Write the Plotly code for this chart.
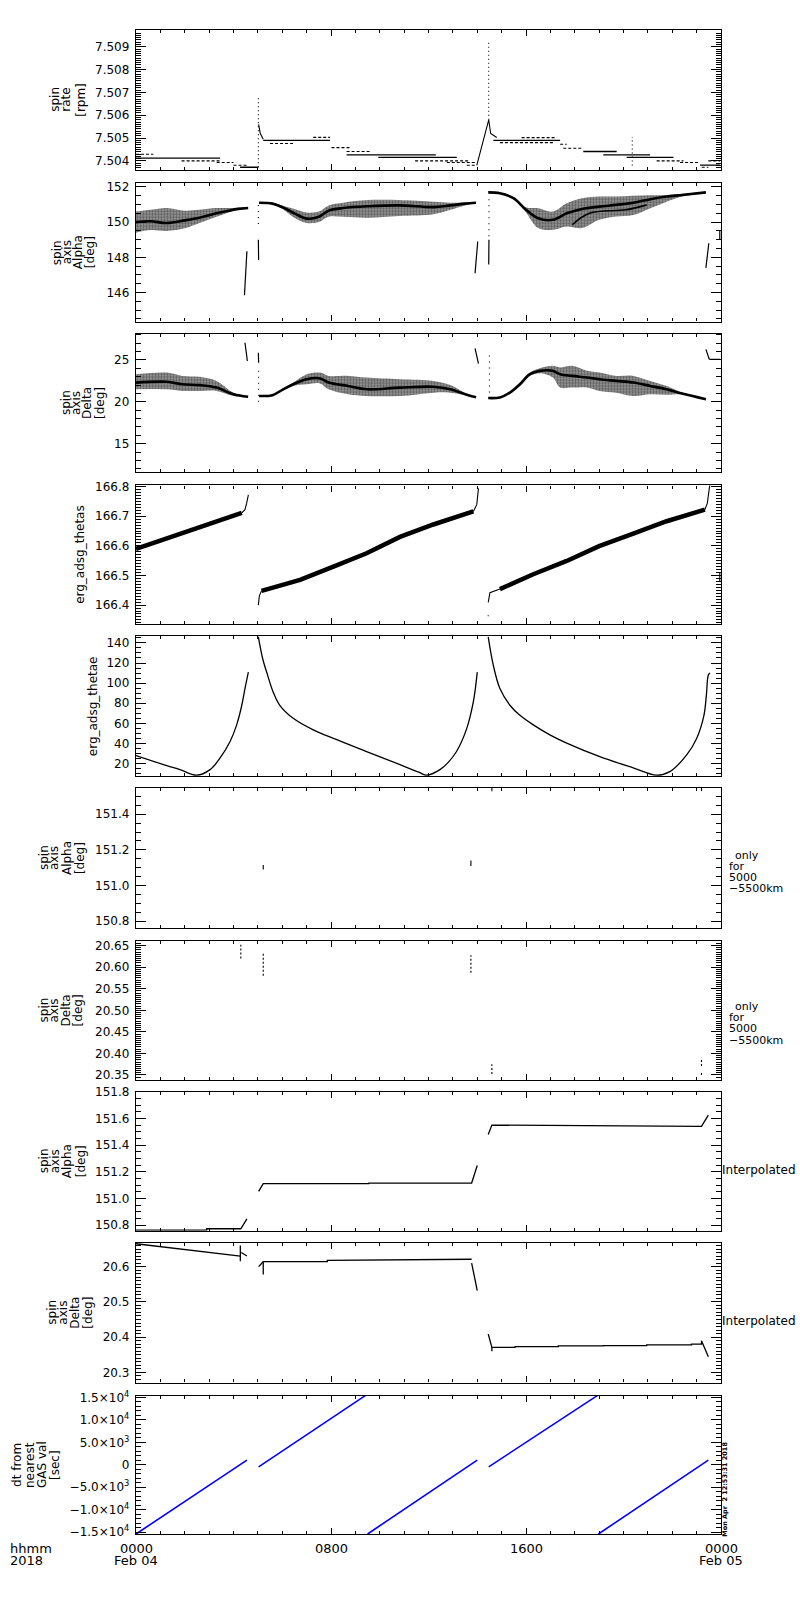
import plotly.graph_objects as go

# ---------------- data (hours since 2018-02-04 00:00 UT) ----------------

# panel 1: spin rate [rpm], quantized levels (dense / sparse runs)
rate_dense_t0 = [0.0, 4.27, 5.22, 8.64, 9.94, 14.66, 18.35, 19.17, 20.13, 23.14]
rate_dense_t1 = [3.45, 5.02, 7.96, 12.3, 13.16, 17.4, 19.72, 21.09, 22.05, 23.96]
rate_dense_v = [7.50412, 7.50372, 7.5049, 7.50426, 7.50415, 7.5049, 7.50441, 7.50426, 7.50415, 7.50381]
rate_sparse_t0 = [0.0, 1.87, 3.31, 4.0, 5.5, 7.27, 8.02, 8.64, 11.45, 12.75, 13.57,
                  14.93, 15.82, 17.4, 17.53, 21.36, 22.32, 23.21, 23.48]
rate_sparse_t1 = [0.71, 3.45, 4.0, 4.61, 6.45, 7.96, 8.78, 9.6, 13.7, 13.98, 13.98,
                  17.12, 17.26, 17.67, 18.35, 22.46, 23.14, 23.48, 23.96]
rate_sparse_v = [7.50429, 7.5040, 7.50393, 7.50381, 7.50476, 7.50503, 7.50458, 7.50441, 7.5040, 7.50393, 7.50381,
                 7.5048, 7.50502, 7.50473, 7.50455, 7.5040, 7.50393, 7.50372, 7.5040]
rate_tr1_t = [5.03, 5.1, 5.22]
rate_tr1_v = [7.5056, 7.5052, 7.50495]
rate_tr2_t = [13.98, 14.45, 14.47, 14.55, 14.8]
rate_tr2_v = [7.5038, 7.5058, 7.5058, 7.5052, 7.50502]
rate_spike_t = [5.02, 14.47, 20.36]
rate_spike_lo = [7.50372, 7.5058, 7.5038]
rate_spike_hi = [7.50676, 7.50931, 7.50505]

# panel 2: spin axis alpha [deg], noisy band (core, upper, lower)
alpha_b1_t = [0.0, 0.6, 1.26, 2.0, 2.6, 3.3, 3.8, 4.2, 4.6]
alpha_b1_c = [150.0, 150.05, 149.95, 150.1, 150.25, 150.5, 150.65, 150.75, 150.8]
alpha_b1_hi = [150.6, 150.7, 150.8, 150.65, 150.7, 150.8, 150.8, 150.82, 150.84]
alpha_b1_lo = [149.4, 149.55, 149.5, 149.65, 149.95, 150.3, 150.55, 150.7, 150.78]
alpha_b2_t = [5.05, 5.6, 6.0, 6.5, 7.0, 7.5, 7.9, 8.5, 9.5, 10.8, 12.2, 12.9, 13.5, 13.95]
alpha_b2_c = [151.1, 151.05, 150.85, 150.5, 150.2, 150.3, 150.65, 150.8, 150.9, 150.95, 150.85, 150.95, 151.05, 151.1]
alpha_b2_hi = [151.12, 151.1, 150.95, 150.75, 150.55, 150.6, 150.95, 151.1, 151.25, 151.25, 151.15, 151.1, 151.1, 151.12]
alpha_b2_lo = [151.08, 151.0, 150.75, 150.25, 149.95, 150.0, 150.3, 150.3, 150.25, 150.35, 150.45, 150.7, 150.95, 151.08]
alpha_b3_t = [14.45, 14.93, 15.5, 16.0, 16.5, 17.1, 17.67, 18.3, 19.0, 19.7, 20.4, 21.1, 21.77, 22.4, 23.38]
alpha_b3_c = [151.69, 151.64, 151.35, 150.7, 150.22, 150.13, 150.5, 150.75, 150.88, 150.98, 151.1, 151.3, 151.45, 151.54, 151.69]
alpha_b3_hi = [151.7, 151.66, 151.4, 150.85, 150.79, 150.6, 151.07, 151.35, 151.45, 151.45, 151.5, 151.52, 151.54, 151.6, 151.7]
alpha_b3_lo = [151.68, 151.62, 151.3, 150.55, 149.66, 149.56, 149.75, 149.66, 150.13, 150.32, 150.41, 150.79, 151.16, 151.45, 151.68]
alpha_b3_strand_t = [17.9, 18.6, 20.1, 20.95]
alpha_b3_strand_v = [149.85, 150.5, 150.7, 150.98]
alpha_seg_t0 = [4.45, 5.02, 13.91, 14.47, 23.38, 23.95]
alpha_seg_v0 = [145.85, 149.0, 147.1, 147.6, 147.4, 149.0]
alpha_seg_t1 = [4.55, 5.03, 14.02, 14.48, 23.5, 23.95]
alpha_seg_v1 = [148.35, 147.85, 148.9, 149.0, 148.8, 149.5]
alpha_dot_t = [5.02, 14.48]
alpha_dot_lo = [149.9, 149.2]
alpha_dot_hi = [151.0, 151.5]

# panel 3: spin axis delta [deg]
delta_b1_t = [0.0, 1.26, 1.9, 2.6, 3.3, 4.0, 4.6]
delta_b1_c = [22.3, 22.4, 22.1, 22.0, 21.7, 20.9, 20.6]
delta_b1_hi = [23.3, 23.5, 23.1, 23.0, 22.5, 21.1, 20.62]
delta_b1_lo = [21.5, 21.5, 21.3, 21.3, 21.3, 20.7, 20.58]
delta_b2_t = [5.05, 5.6, 6.04, 6.45, 7.0, 7.55, 7.9, 8.7, 9.46, 10.83, 12.2, 12.9, 13.57, 13.95]
delta_b2_c = [20.7, 20.8, 21.5, 22.1, 22.7, 22.8, 22.3, 21.9, 21.5, 21.7, 21.8, 21.5, 20.85, 20.55]
delta_b2_hi = [20.72, 20.85, 21.6, 22.3, 23.3, 23.5, 23.1, 23.1, 22.9, 22.7, 22.5, 22.0, 20.95, 20.6]
delta_b2_lo = [20.68, 20.75, 21.4, 21.9, 22.1, 22.2, 21.5, 20.9, 20.7, 20.7, 21.1, 21.1, 20.75, 20.5]
delta_b3_t = [14.45, 14.93, 15.34, 15.75, 16.16, 16.57, 17.1, 17.4, 17.9, 18.5, 19.0, 19.7, 20.4, 21.1, 21.77, 22.4, 23.38]
delta_b3_c = [20.45, 20.52, 21.1, 22.1, 23.3, 23.7, 23.7, 23.3, 23.1, 22.9, 22.7, 22.5, 22.3, 21.9, 21.5, 21.0, 20.32]
delta_b3_hi = [20.47, 20.55, 21.2, 22.3, 23.5, 24.0, 24.3, 24.1, 24.3, 23.7, 23.5, 23.1, 23.1, 22.5, 21.9, 21.1, 20.35]
delta_b3_lo = [20.43, 20.5, 21.0, 21.9, 23.1, 23.4, 22.9, 21.7, 21.7, 21.7, 21.3, 21.1, 20.7, 20.9, 20.85, 20.9, 20.3]
delta_seg_t0 = [4.47, 5.02, 13.91, 23.38, 23.52]
delta_seg_v0 = [27.06, 25.87, 26.39, 26.27, 25.08]
delta_seg_t1 = [4.57, 5.03, 14.05, 23.52, 23.95]
delta_seg_v1 = [24.88, 24.68, 24.56, 25.08, 25.08]
delta_dot_t = [5.03, 14.5]
delta_dot_lo = [20.0, 20.4]
delta_dot_hi = [24.0, 25.87]

# panel 4: erg_adsg_thetas
thetas_body = [
    ([0.0, 4.34], [166.59, 166.711]),
    ([5.15, 6.73, 8.1, 9.46, 10.83, 12.2, 13.84],
     [166.448, 166.485, 166.53, 166.575, 166.63, 166.672, 166.716]),
    ([14.93, 16.3, 17.67, 19.0, 20.4, 21.77, 23.34],
     [166.454, 166.504, 166.549, 166.599, 166.641, 166.683, 166.722]),
]
thetas_ends = [
    ([4.34, 4.47, 4.54, 4.61], [166.711, 166.722, 166.744, 166.772]),
    ([5.02, 5.06, 5.15], [166.40, 166.431, 166.448]),
    ([13.84, 13.98, 14.05], [166.716, 166.739, 166.794]),
    ([14.45, 14.52, 14.93], [166.409, 166.442, 166.454]),
    ([23.34, 23.44, 23.52, 23.55], [166.722, 166.744, 166.794, 166.81]),
    ([23.95, 23.95], [166.48, 166.51]),
    ([14.45, 14.45], [166.362, 166.366]),
]

# panel 5: erg_adsg_thetae
thetae_t1 = [0.0, 1.26, 1.8, 2.49, 3.04, 3.45, 3.86, 4.13, 4.34, 4.47, 4.61]
thetae_v1 = [28.0, 18.0, 14.0, 8.5, 14.0, 25.6, 42.0, 58.5, 78.0, 94.6, 111.0]
thetae_t2 = [5.02, 5.2, 5.36, 5.63, 5.9, 6.45, 7.27, 8.1, 9.46, 10.83, 11.6, 11.93, 12.47, 12.8, 13.15, 13.57, 13.84, 14.0]
thetae_v2 = [146.0, 124.0, 111.0, 91.0, 78.0, 65.0, 53.5, 45.0, 32.0, 19.0, 11.5, 8.5, 14.0, 21.0, 32.0, 55.0, 81.5, 111.0]
thetae_t3 = [14.45, 14.66, 14.93, 15.34, 15.75, 16.3, 16.98, 17.67, 19.0, 20.4, 21.35, 21.9, 22.6, 23.0, 23.3, 23.4, 23.48, 23.55]
thetae_v3 = [146.0, 117.6, 94.6, 78.0, 68.0, 58.5, 48.6, 40.4, 27.2, 15.7, 8.5, 12.0, 29.0, 45.0, 68.0, 88.0, 108.0, 110.0]

# panels 6/7: only for 5000-5500 km (isolated short runs)
alpha_km_t = [5.22, 13.74, 14.6, 23.2]
alpha_km_lo = [151.09, 151.11, 151.53, 151.53]
alpha_km_hi = [151.115, 151.14, 151.55, 151.55]
delta_km_t = [4.3, 5.22, 13.74, 14.6, 23.2, 23.2]
delta_km_lo = [20.62, 20.58, 20.587, 20.352, 20.371, 20.35]
delta_km_hi = [20.652, 20.632, 20.628, 20.375, 20.39, 20.356]

# panel 8: interpolated alpha
alpha_int = [
    ([0.0, 2.9, 2.9, 4.3, 4.55], [150.762, 150.762, 150.772, 150.772, 150.846]),
    ([5.03, 5.22, 9.55, 9.55, 13.77, 14.0], [151.053, 151.11, 151.11, 151.115, 151.115, 151.247]),
    ([14.45, 14.6, 23.2, 23.48], [151.48, 151.55, 151.54, 151.625]),
]
# panel 9: interpolated delta
delta_int = [
    ([0.0, 4.28], [20.665, 20.630]),
    ([4.28, 4.28], [20.615, 20.66]),
    ([4.32, 4.55], [20.64, 20.63]),
    ([5.03, 5.22, 7.85, 7.85, 13.77], [20.60, 20.614, 20.614, 20.618, 20.621]),
    ([5.22, 5.22], [20.578, 20.614]),
    ([13.77, 14.0], [20.61, 20.532]),
    ([14.45, 14.6, 15.55, 15.55, 17.33, 17.33, 19.17, 19.17, 20.95, 20.95, 22.79, 22.79, 23.2, 23.2, 23.48],
     [20.409, 20.371, 20.371, 20.373, 20.373, 20.375, 20.375, 20.376, 20.376, 20.378, 20.378, 20.38, 20.38, 20.39, 20.344]),
    ([14.6, 14.6], [20.36, 20.371]),
]

# panel 10: dt from nearest GAS val [sec]
dt_t0 = [0.0, 5.03, 9.5, 14.47, 18.97]
dt_v0 = [-15400, -440, -15400, -440, -15400]
dt_t1 = [4.55, 9.45, 14.0, 18.97, 23.48]
dt_v1 = [1040, 15570, 1040, 15570, 1040]

tick_hours = [0, 8, 16, 24]
tick_hhmm = ["0000", "0800", "1600", "0000"]
tick_date = ["Feb 04", "", "", "Feb 05"]

ytitles = [["spin", "rate", "[rpm]"], ["spin", "axis", "Alpha", "[deg]"], ["spin", "axis", "Delta", "[deg]"],
           ["erg_adsg_thetas"], ["erg_adsg_thetae"], ["spin", "axis", "Alpha", "[deg]"],
           ["spin", "axis", "Delta", "[deg]"], ["spin", "axis", "Alpha", "[deg]"],
           ["spin", "axis", "Delta", "[deg]"], ["dt from", "nearest", "GAS val", "[sec]"]]

# ---------------- layout geometry (pixels in the 800x1600 page) ----------------
W, H = 800, 1600
X0, X1 = 136, 721
tops = [23, 177, 329, 482, 634, 787, 941, 1093, 1245, 1399]
bots = [164, 317, 469, 622, 775, 928, 1081, 1233, 1386, 1539]
ytitle_x = [[55, 66, 81], [57, 67, 78, 90], [66, 76, 87, 100], [80], [93],
            [44, 54, 67, 80], [44, 54, 66, 78], [44, 55, 67, 81], [52, 63, 75, 88], [17, 30, 42, 55]]

yspec = [
    dict(range=[7.50361, 7.50974], dtick=0.001, tick0=7.504, minor=0.0001, fmt=".3f"),
    dict(range=[144.35, 152.24], dtick=2, tick0=0, minor=0.5, fmt=".0f"),
    dict(range=[11.56, 28.16], dtick=5, tick0=0, minor=1, fmt=".0f"),
    dict(range=[166.335, 166.804], dtick=0.1, tick0=166.4, minor=0.01, fmt=".1f"),
    dict(range=[7.5, 146.6], dtick=20, tick0=0, minor=5, fmt=".0f"),
    dict(range=[150.761, 151.547], dtick=0.2, tick0=150.8, minor=0.05, fmt=".1f"),
    dict(range=[20.3385, 20.661], dtick=0.05, tick0=20.35, minor=0.005, fmt=".2f"),
    dict(range=[150.757, 151.80], dtick=0.2, tick0=150.8, minor=0.05, fmt=".1f"),
    dict(range=[20.271, 20.668], dtick=0.1, tick0=20.3, minor=0.01, fmt=".1f"),
    dict(range=[-15510, 15440], dtick=5000, tick0=0, minor=1000, fmt=None),
]

FONT = "DejaVu Sans"
fig = go.Figure()


def ax(i):
    return ("x", "y") if i == 1 else (f"x{i}", f"y{i}")


def add_line(i, t, v, width=1.0, dash="solid", color="black", shape="linear"):
    xa, ya = ax(i)
    fig.add_trace(go.Scatter(x=t, y=v, mode="lines", xaxis=xa, yaxis=ya,
                             line=dict(color=color, width=width, dash=dash, shape=shape),
                             hoverinfo="skip", showlegend=False))


def flat_segs(t0, t1, v):
    xs, ys = [], []
    for a, b, c in zip(t0, t1, v):
        xs += [a, b, None]
        ys += [c, c, None]
    return xs, ys


def pair_segs(t0, v0, t1, v1):
    xs, ys = [], []
    for a, b, c, d in zip(t0, v0, t1, v1):
        xs += [a, c, None]
        ys += [b, d, None]
    return xs, ys


def vert_segs(t, lo, hi):
    return pair_segs(t, lo, t, hi)


def add_band(i, t, lo, hi, core):
    # scatter cloud drawn as a speckled grey envelope plus its dense core
    xa, ya = ax(i)
    fig.add_trace(go.Scatter(x=t + t[::-1], y=hi + lo[::-1], mode="lines", fill="toself",
                             xaxis=xa, yaxis=ya, line=dict(width=0, color="black", shape="spline"),
                             fillcolor="white",
                             fillpattern=dict(shape=".", fgcolor="#222222", bgcolor="#9a9a9a",
                                              size=3, solidity=0.5),
                             hoverinfo="skip", showlegend=False))
    add_line(i, t, core, width=2.6, shape="spline")


# panel 1
add_line(1, *flat_segs(rate_dense_t0, rate_dense_t1, rate_dense_v), width=1.3)
add_line(1, *flat_segs(rate_sparse_t0, rate_sparse_t1, rate_sparse_v), width=1.1, dash="3px,2px")
add_line(1, rate_tr1_t, rate_tr1_v, width=1.1)
add_line(1, rate_tr2_t, rate_tr2_v, width=1.1)
add_line(1, *vert_segs(rate_spike_t, rate_spike_lo, rate_spike_hi), width=1.1, dash="1px,3px")

# panel 2
for t, c, hi, lo in [(alpha_b1_t, alpha_b1_c, alpha_b1_hi, alpha_b1_lo),
                     (alpha_b2_t, alpha_b2_c, alpha_b2_hi, alpha_b2_lo),
                     (alpha_b3_t, alpha_b3_c, alpha_b3_hi, alpha_b3_lo)]:
    add_band(2, t, lo, hi, c)
add_line(2, alpha_b3_strand_t, alpha_b3_strand_v, width=1.6, shape="spline")
add_line(2, *pair_segs(alpha_seg_t0, alpha_seg_v0, alpha_seg_t1, alpha_seg_v1), width=1.2)
add_line(2, *vert_segs(alpha_dot_t, alpha_dot_lo, alpha_dot_hi), width=1.1, dash="1px,5px")

# panel 3
for t, c, hi, lo in [(delta_b1_t, delta_b1_c, delta_b1_hi, delta_b1_lo),
                     (delta_b2_t, delta_b2_c, delta_b2_hi, delta_b2_lo),
                     (delta_b3_t, delta_b3_c, delta_b3_hi, delta_b3_lo)]:
    add_band(3, t, lo, hi, c)
add_line(3, *pair_segs(delta_seg_t0, delta_seg_v0, delta_seg_t1, delta_seg_v1), width=1.2)
add_line(3, *vert_segs(delta_dot_t, delta_dot_lo, delta_dot_hi), width=1.1, dash="1px,5px")

# panel 4
for t, v in thetas_body:
    add_line(4, t, v, width=4.5)
for t, v in thetas_ends:
    add_line(4, t, v, width=1.1)

# panel 5
for t, v in [(thetae_t1, thetae_v1), (thetae_t2, thetae_v2), (thetae_t3, thetae_v3)]:
    add_line(5, t, v, width=1.3, shape="spline")

# panels 6, 7
add_line(6, *vert_segs(alpha_km_t, alpha_km_lo, alpha_km_hi), width=1.1)
add_line(7, *vert_segs(delta_km_t, delta_km_lo, delta_km_hi), width=1.1, dash="2px,2px")

# panels 8, 9
for t, v in alpha_int:
    add_line(8, t, v, width=1.3)
for t, v in delta_int:
    add_line(9, t, v, width=1.3)

# panel 10
add_line(10, *pair_segs(dt_t0, dt_v0, dt_t1, dt_v1), width=1.6, color="#0000ff")

# ---------------- axes ----------------
layout = dict(width=W, height=H, margin=dict(l=0, r=0, t=0, b=0),
              paper_bgcolor="white", plot_bgcolor="white", showlegend=False,
              font=dict(family=FONT, size=12, color="black"))
for i in range(1, 11):
    xa = "xaxis" if i == 1 else f"xaxis{i}"
    ya = "yaxis" if i == 1 else f"yaxis{i}"
    s = yspec[i - 1]
    layout[xa] = dict(domain=[X0 / W, X1 / W], range=[0, 24], anchor=ax(i)[1],
                      tick0=0, dtick=8, ticks="inside", ticklen=6, tickwidth=1.2,
                      tickcolor="black", showticklabels=False,
                      minor=dict(dtick=1, ticks="inside", ticklen=3, tickwidth=1, tickcolor="black"),
                      showline=True, linecolor="black", linewidth=1.4, mirror="ticks",
                      showgrid=False, zeroline=False, fixedrange=True)
    yd = dict(domain=[1 - bots[i - 1] / H, 1 - tops[i - 1] / H], range=s["range"],
              anchor=ax(i)[0], ticks="inside", ticklen=10, tickwidth=1.2, tickcolor="black",
              minor=dict(dtick=s["minor"], ticks="inside", ticklen=5, tickwidth=1, tickcolor="black"),
              showline=True, linecolor="black", linewidth=1.4, mirror="ticks",
              showgrid=False, zeroline=False, fixedrange=True,
              tickfont=dict(family=FONT, size=12), ticklabelstandoff=3)
    if s["fmt"] is None:
        yd.update(tickmode="array", tickvals=[-15000, -10000, -5000, 0, 5000, 10000, 15000],
                  ticktext=["\u22121.5\u00d710<sup>4</sup>", "\u22121.0\u00d710<sup>4</sup>",
                            "\u22125.0\u00d710<sup>3</sup>", "0", "5.0\u00d710<sup>3</sup>",
                            "1.0\u00d710<sup>4</sup>", "1.5\u00d710<sup>4</sup>"])
    else:
        yd.update(tick0=s["tick0"], dtick=s["dtick"], tickformat=s["fmt"])
    layout[ya] = yd
fig.update_layout(**layout)

# ---------------- text ----------------
ann = []
for i in range(10):
    yc = 1 - (tops[i] + bots[i]) / 2 / H
    for txt, xp in zip(ytitles[i], ytitle_x[i]):
        ann.append(dict(text=txt, x=xp / W, y=yc, xref="paper", yref="paper", textangle=-90,
                        showarrow=False, xanchor="center", yanchor="middle",
                        font=dict(family=FONT, size=12)))

for yp, lines in [((855, 866, 877, 888), ("only", "for", "5000", "\u22125500km")),
                  ((1007, 1018, 1029, 1041), ("only", "for", "5000", "\u22125500km"))]:
    for y, txt in zip(yp, lines):
        ann.append(dict(text=txt, x=(733 if txt == "only" else 727) / W, y=1 - y / H,
                        xref="paper", yref="paper", showarrow=False, xanchor="left",
                        yanchor="middle", font=dict(family=FONT, size=11)))
for y in (1172, 1324):
    ann.append(dict(text="Interpolated", x=720 / W, y=1 - y / H, xref="paper", yref="paper",
                    showarrow=False, xanchor="left", yanchor="middle",
                    font=dict(family=FONT, size=12)))

for h, a, b in zip(tick_hours, tick_hhmm, tick_date):
    ann.append(dict(text=a, x=h, y=1 - 1553 / H, xref="x10", yref="paper", showarrow=False,
                    xanchor="center", yanchor="middle", font=dict(family=FONT, size=13)))
    if b:
        ann.append(dict(text=b, x=h, y=1 - 1565 / H, xref="x10", yref="paper", showarrow=False,
                        xanchor="center", yanchor="middle", font=dict(family=FONT, size=13)))
ann.append(dict(text="hhmm", x=8 / W, y=1 - 1553 / H, xref="paper", yref="paper", showarrow=False,
                xanchor="left", yanchor="middle", font=dict(family=FONT, size=13)))
ann.append(dict(text="2018", x=8 / W, y=1 - 1565 / H, xref="paper", yref="paper", showarrow=False,
                xanchor="left", yanchor="middle", font=dict(family=FONT, size=13)))
ann.append(dict(text="<b>Mon Apr  2 12:53:31 2018</b>", x=725 / W, y=1 - 1494 / H, xref="paper",
                yref="paper", textangle=-90, showarrow=False, xanchor="center", yanchor="middle",
                font=dict(family=FONT, size=6.5)))
fig.update_layout(annotations=ann)

# page margin off so the 800x1600 figure fills the window exactly
fig.write_html("out.html", config={"displayModeBar": False},
               post_script="document.body.style.margin='0';document.body.style.overflow='hidden';")
